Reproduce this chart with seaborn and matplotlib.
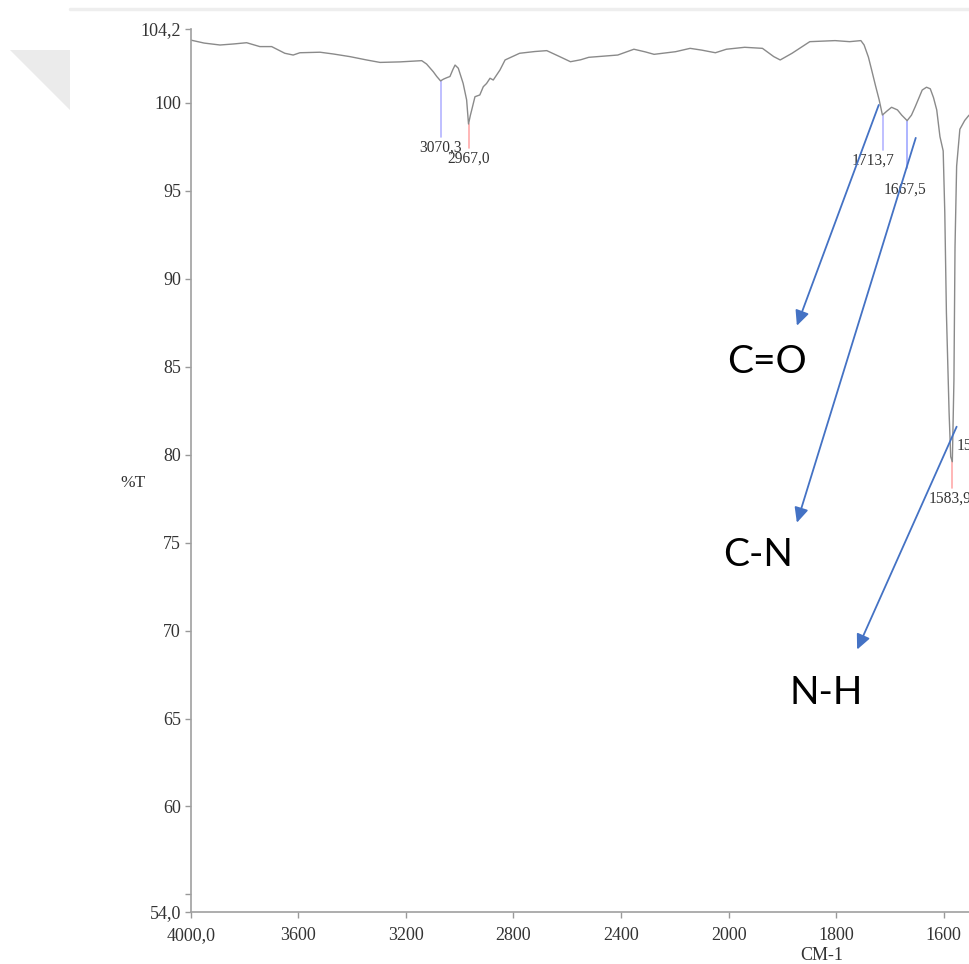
import numpy as np
import matplotlib
matplotlib.use("Agg")
import matplotlib.pyplot as plt
from matplotlib.lines import Line2D
from matplotlib.patches import Polygon
import seaborn as sns

# ---------------- data ----------------
wavenumber = [4000, 3950, 3891, 3840, 3792, 3743, 3699, 3650, 3619, 3594, 3519, 3470,
              3408, 3346, 3296, 3222, 3141, 3123, 3098, 3085, 3071, 3060, 3048, 3036,
              3025, 3017, 3005, 2987, 2974, 2967, 2960, 2955, 2943, 2925, 2912, 2900,
              2887, 2875, 2850, 2831, 2777, 2720, 2676, 2628, 2588, 2550, 2520, 2470,
              2412, 2352, 2310, 2277, 2197, 2143, 2100, 2049, 2008, 1970, 1937, 1916,
              1904, 1882, 1849, 1802, 1775, 1754, 1748, 1740, 1734, 1727, 1720, 1714,
              1705, 1697, 1686, 1678, 1668, 1660, 1653, 1640, 1632, 1625, 1619, 1613,
              1607, 1601, 1598, 1595, 1590, 1587, 1584, 1581, 1579, 1576, 1570, 1561,
              1553]
transmittance = [103.57, 103.40, 103.29, 103.35, 103.42, 103.20, 103.20, 102.82, 102.72,
                 102.85, 102.88, 102.78, 102.63, 102.44, 102.30, 102.33, 102.40, 102.21,
                 101.77, 101.50, 101.25, 101.35, 101.43, 101.50, 101.90, 102.15, 101.97,
                 101.11, 100.17, 98.80, 99.30, 99.60, 100.35, 100.45, 100.92, 101.10,
                 101.40, 101.30, 101.87, 102.44, 102.82, 102.92, 102.97, 102.63, 102.34,
                 102.45, 102.59, 102.65, 102.72, 103.05, 102.90, 102.76, 102.91, 103.10,
                 103.00, 102.85, 103.05, 103.16, 103.10, 102.63, 102.44, 102.82, 103.48,
                 103.54, 103.48, 103.54, 103.29, 102.60, 101.87, 101.00, 100.17, 99.31,
                 99.55, 99.75, 99.60, 99.30, 98.99, 99.30, 99.78, 100.73, 100.89, 100.80,
                 100.30, 99.60, 98.08, 97.27, 93.75, 88.06, 82.38, 79.88, 79.60, 84.26,
                 91.80, 96.40, 98.50, 99.00, 99.30]

peak_positions = [3070.3, 2967.0, 1713.7, 1667.5, 1583.9]
peak_labels = ["3070,3", "2967,0", "1713,7", "1667,5", "1583,9"]
peak_top = [101.25, 98.80, 99.30, 98.97, 79.70]
peak_bottom = [98.06, 97.44, 97.32, 96.30, 78.10]
peak_colors = ["#b4b4ff", "#ffaaaa", "#b4b4ff", "#a0a8ff", "#ffaaaa"]

xtick_values = [4000, 3600, 3200, 2800, 2400, 2000, 1800, 1600]
xtick_labels = ["4000,0", "3600", "3200", "2800", "2400", "2000", "1800", "1600"]
ytick_values = [54, 55, 60, 65, 70, 75, 80, 85, 90, 95, 100, 104.2]
ytick_labels = ["54,0", "", "60", "65", "70", "75", "80", "85", "90", "95", "100", "104,2"]

bond_labels = ["C=O", "C-N", "N-H"]
arrow_start = [(1720.8, 99.88), (1652, 98.01), (1576, 81.59)]
arrow_end = [(1873, 87.33), (1873, 76.13), (1761, 68.92)]
bond_text_pos = [(1929, 85.28), (1946, 74.31), (1819, 66.47)]

# ---------------- scale (IR scale change at 2000 cm-1) ----------------
def fwd(x):
    x = np.asarray(x, dtype=float)
    return np.where(x >= 2000, (4000 - x) / 400.0, 5 + (2000 - x) / 200.0)

def inv(u):
    u = np.asarray(u, dtype=float)
    return np.where(u <= 5, 4000 - 400.0 * u, 2000 - 200.0 * (u - 5))

sns.set_style("white")
plt.rcParams["font.family"] = ["Liberation Serif", "DejaVu Serif"]

W, H = 969, 964
fig = plt.figure(figsize=(W / 100, H / 100), dpi=100)
ax = fig.add_axes([190.7 / W, 1 - 912 / H, 1 - 190.7 / W, (912 - 29) / H])
ax.set_xscale("function", functions=(fwd, inv))

sns.lineplot(x=wavenumber, y=transmittance, ax=ax, color="#8a8a8a", linewidth=1.0,
             sort=False, estimator=None)

ax.set_xlim(1553, 4000)
ax.set_ylim(54, 104.2)

ax.set_xticks(xtick_values)
ax.set_xticklabels(xtick_labels)
ax.xaxis.set_minor_locator(matplotlib.ticker.NullLocator())
ax.set_yticks(ytick_values)
ax.set_yticklabels(ytick_labels)
ax.tick_params(axis="both", direction="out", length=4, width=1, color="#999999",
               labelsize=13, labelcolor="#333333", pad=3, bottom=True, left=True)
ax.tick_params(axis="x", pad=7)

for s in ["top", "right"]:
    ax.spines[s].set_visible(False)
for s in ["left", "bottom"]:
    ax.spines[s].set_color("#a0a0a0")
    ax.spines[s].set_linewidth(1.2)

ax.set_xlabel("")
ax.set_ylabel("")
fig.text(133 / W, 1 - 483 / H, "%T", ha="center", va="center", fontsize=12.5,
         color="#333333")
fig.text(822 / W, 1 - 955 / H, "CM-1", ha="center", va="center", fontsize=13,
         color="#333333")

# peak markers
label_offsets_pt = [(0, -2), (0, -2), (-7, -2), (-2, -10), (-2, -2)]
for x, lab, yt, yb, c, off in zip(peak_positions, peak_labels, peak_top, peak_bottom,
                                  peak_colors, label_offsets_pt):
    ax.plot([x, x], [yt, yb], color=c, linewidth=1.2, zorder=1)
    ax.annotate(lab, xy=(x, yb), xytext=off, textcoords="offset points",
                ha="center", va="top", fontsize=11.2, color="#333333",
                annotation_clip=False)
# cropped extra label at the right edge
ax.annotate("15", xy=(1577, 80.5), ha="left", va="center", fontsize=11.2,
            color="#333333", annotation_clip=False)

# bond annotations
for lab, s, e, tp in zip(bond_labels, arrow_start, arrow_end, bond_text_pos):
    ax.annotate("", xy=e, xytext=s,
                arrowprops=dict(arrowstyle="-|>,head_length=0.9,head_width=0.42",
                                color="#4472C4", lw=1.3, shrinkA=0, shrinkB=0),
                annotation_clip=False)
    ax.text(tp[0], tp[1], lab, ha="center", va="center", fontsize=28,
            family=["Lato", "DejaVu Sans"], color="black")

# screenshot artefacts
fig.add_artist(Line2D([70 / W, 1], [1 - 9 / H, 1 - 9 / H], color="#eeeeee", lw=2.5))
fig.add_artist(Polygon([(10 / W, 1 - 50 / H), (70 / W, 1 - 50 / H), (70 / W, 1 - 110 / H)],
                       closed=True, facecolor="#ebebeb", edgecolor="none",
                       transform=fig.transFigure))

fig.savefig("out.png", dpi=100)
